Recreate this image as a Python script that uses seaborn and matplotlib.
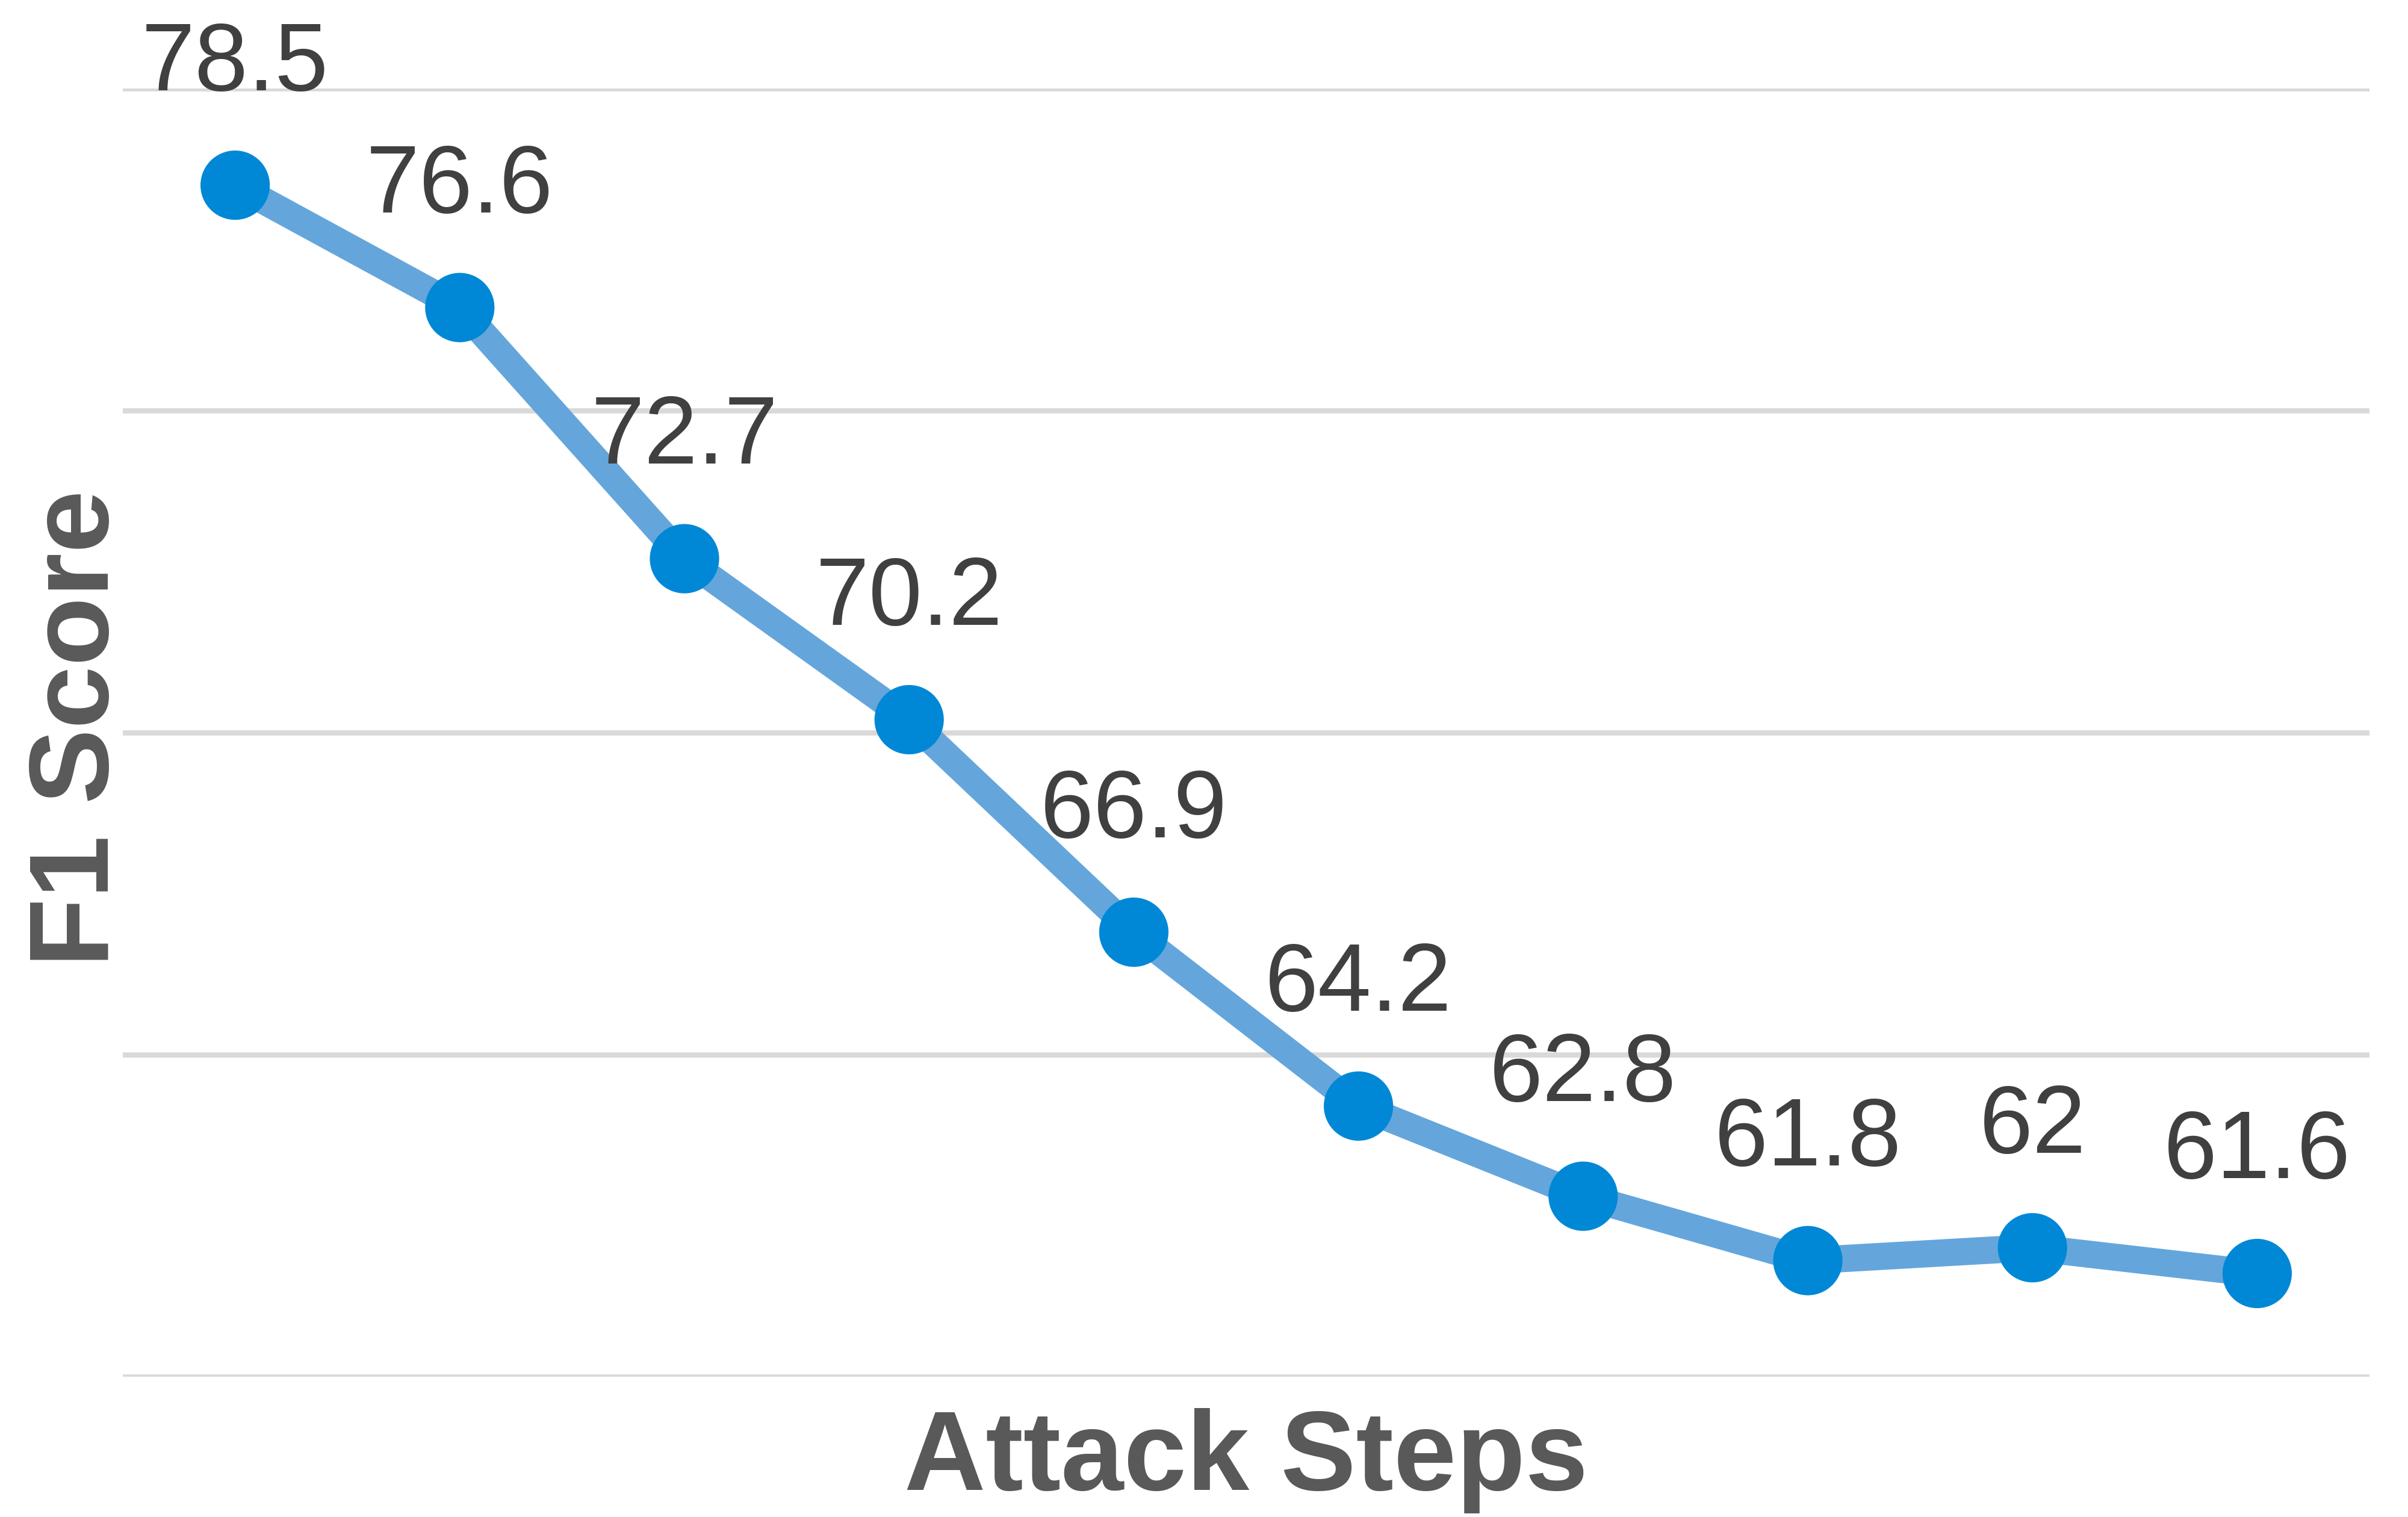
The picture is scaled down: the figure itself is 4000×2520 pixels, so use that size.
import matplotlib
matplotlib.use("Agg")
import matplotlib.pyplot as plt
import seaborn as sns
import pandas as pd

steps = list(range(10))
f1 = [78.5, 76.6, 72.7, 70.2, 66.9, 64.2, 62.8, 61.8, 62.0, 61.6]
labels = ["78.5", "76.6", "72.7", "70.2", "66.9", "64.2", "62.8", "61.8", "62", "61.6"]

sns.set_theme(style="white")
plt.rcParams['font.family'] = ['Liberation Sans', 'DejaVu Sans']

fig = plt.figure(figsize=(16, 10.08), dpi=250)
ax = fig.add_axes([0.051, 0.0926, 0.933, 0.849])
df = pd.DataFrame({"step": steps, "f1": f1})
sns.lineplot(data=df, x="step", y="f1", ax=ax, color="#64A6DB", linewidth=13, zorder=2)
sns.scatterplot(data=df, x="step", y="f1", ax=ax, color="#0088D6", s=1100, edgecolor="none", zorder=3)

for x, y, t in zip(steps, f1, labels):
    ax.annotate(t, (x, y), xytext=(0, 36), textcoords="offset points",
                ha="center", va="bottom", fontsize=46, color="#404040")

ax.set_xlim(-0.5, 9.5)
ax.set_ylim(60, 80)
ax.set_yticks([60, 65, 70, 75, 80])
ax.yaxis.grid(True, color="#D9D9D9", linewidth=2.5)
ax.set_axisbelow(True)
ax.set_xticks([])
ax.set_yticklabels([])
ax.tick_params(left=False, bottom=False)
for s in ax.spines.values():
    s.set_visible(False)
ax.set_xlabel("Attack Steps", fontsize=54, fontweight="bold", color="#595959", labelpad=15)
ax.set_ylabel("")
fig.text(0.033, 0.52, "F1 Score", rotation=90, ha="center", va="center",
         fontsize=54, fontweight="bold", color="#595959")

fig.savefig("out.png", dpi=250)
